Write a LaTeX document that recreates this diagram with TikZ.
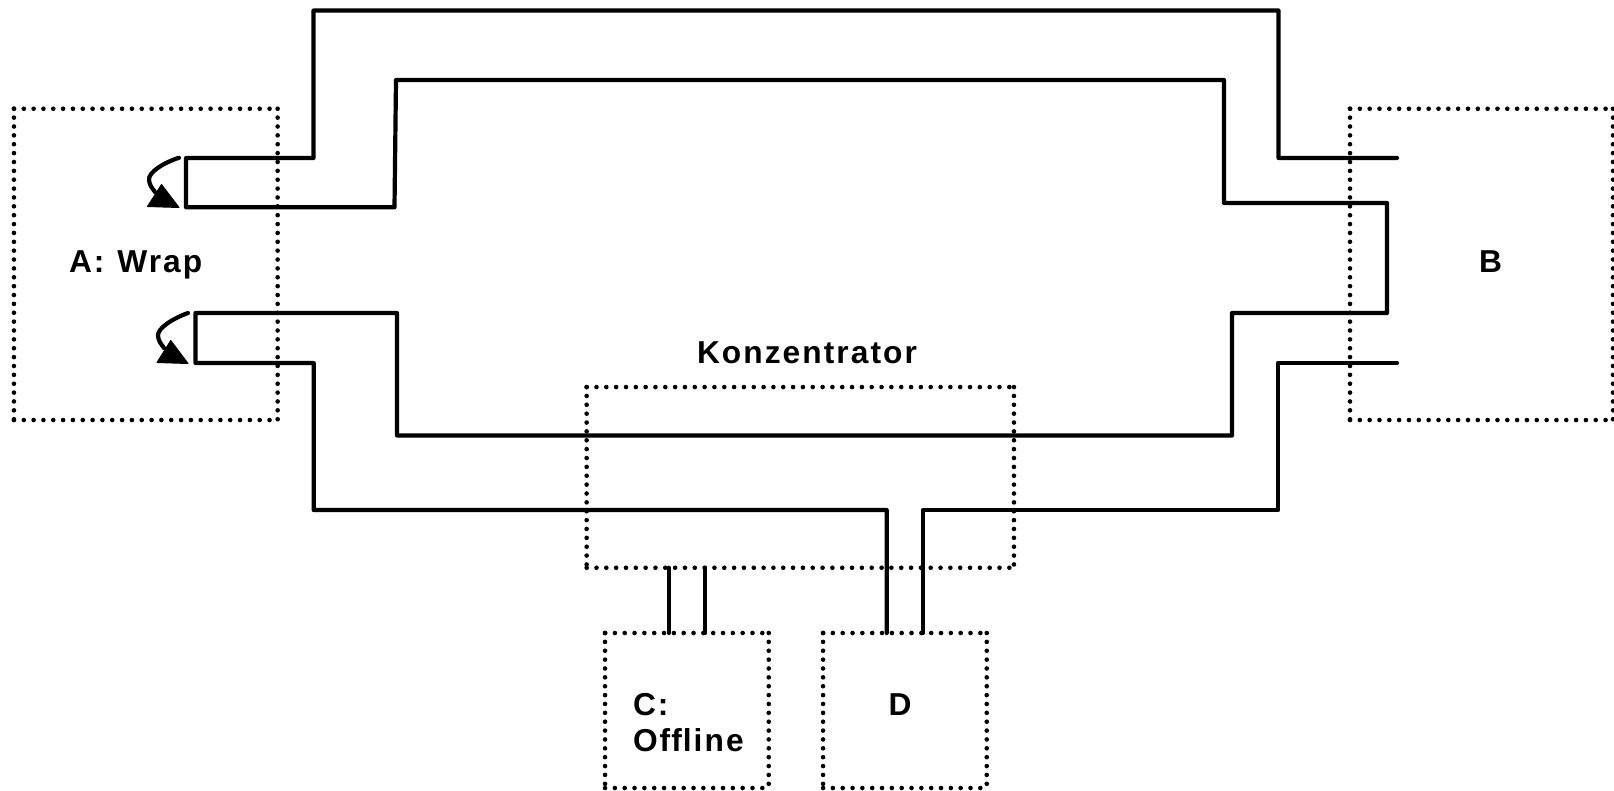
\documentclass[tikz,border=0pt]{standalone}
\usepackage{fontspec}
\newfontfamily\lab[LetterSpace=6.5,BoldFont={Liberation Sans Bold}]{Liberation Sans}
\tikzset{
  dotbox/.style={inner sep=0pt,outer sep=0pt},
  hdots/.style={draw=black,line width=4.6pt,line cap=round,dash pattern=on 0pt off 9.83pt},
  vdots/.style={draw=black,line width=4.6pt,line cap=round,dash pattern=on 0pt off 8.87pt},
  wire/.style={draw=black,line width=4.2pt,line join=round,line cap=round},
  txt/.style={inner sep=0pt,outer sep=0pt,anchor=base west,text=black,font=\fontsize{31.7}{36.7}\selectfont\lab\bfseries},
  turn/.style={draw=black,line width=4.2pt,line cap=round},
  tip/.style={fill=black,draw=black,line width=1pt,line join=round}
}
\newcommand{\dotframe}[1]{%
  \draw[vdots] (#1.north west) -- (#1.south west);
  \draw[hdots] (#1.south west) -- (#1.south east);
  \draw[vdots] (#1.north east) -- (#1.south east);
  \draw[hdots] (#1.north west) -- (#1.north east);
}
\begin{document}
\begin{tikzpicture}[x=1pt,y=-1pt]
\useasboundingbox (0,0) rectangle (1614,790);
% dotted boxes
\node[dotbox,minimum width=263.7pt,minimum height=311.3pt] (A) at (145.8,264.4) {};
\node[dotbox,minimum width=263pt,minimum height=311.3pt] (B) at (1481.5,264.4) {};
\node[dotbox,minimum width=427.3pt,minimum height=180.7pt] (K) at (800.3,477.4) {};
\node[dotbox,minimum width=163.7pt,minimum height=155pt] (C) at (686.9,710.5) {};
\node[dotbox,minimum width=163.7pt,minimum height=155pt] (D) at (904.9,710.5) {};
\dotframe{A}\dotframe{B}\dotframe{K}\dotframe{C}\dotframe{D}
% labels
\node[txt] (lA) at (69,272.7) {A:\hspace{2pt} Wrap};
\node[txt] (lB) at (1479,272.7) {B};
\node[txt] (lK) at (697,363) {Konzentrator};
\node[txt] (lC1) at (633,715) {C:};
\node[txt] (lC2) at (633,751.7) {Of\kern1pt f\kern1pt line};
\node[txt] (lD) at (888.5,715) {D};
% wire end points
\coordinate (a1) at (186,158);
\coordinate (a2) at (186,207.3);
\coordinate (a3) at (195.5,313);
\coordinate (a4) at (195.5,363);
\coordinate (b1) at (1397,158);
\coordinate (b2) at (1387,203);
\coordinate (b3) at (1387,313);
\coordinate (b4) at (1397,363);
\coordinate (d1) at (886.7,633);
\coordinate (d2) at (922.7,633);
\coordinate (c1t) at (668.7,567.7);
\coordinate (c1b) at (668.7,633);
\coordinate (c2t) at (705,567.7);
\coordinate (c2b) at (705,633);
% wires
\draw[wire] (b1) -- (1278.5,158) -- (1278.5,10.5) -- (313.5,10.5) -- (313.5,158) -- (a1) -- (a2) -- (394.5,207.3) -- (396,80) -- (1224,80) -- (1224,203) -- (b2) -- (b3) -- (1232,313) -- (1232,435.5) -- (397,435.5) -- (397,313) -- (a3) -- (a4) -- (313.7,363) -- (313.7,510) -- (886.7,510) -- (d1);
\draw[wire] (d2) -- (922.7,510) -- (1278,510) -- (1278,363) -- (b4);
\draw[wire] (c1t) -- (c1b);
\draw[wire] (c2t) -- (c2b);
% wrap arrows
\draw[turn] (179,157.8) .. controls (165,162) and (148,172) .. (149,180) .. controls (149.5,185) and (152,188) .. (155,192);
\fill[tip] (147.5,206.5) -- (161.5,184.5) -- (179,207.5) -- cycle;
\draw[turn] (188,313) .. controls (174,318) and (157,328) .. (158,336) .. controls (158.5,341) and (161,344) .. (164,348);
\fill[tip] (157,362.5) -- (170.8,340.5) -- (188,363.5) -- cycle;
\end{tikzpicture}
\end{document}
